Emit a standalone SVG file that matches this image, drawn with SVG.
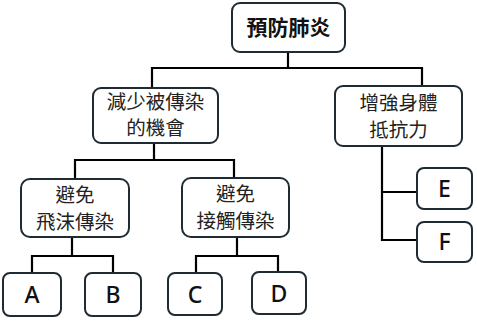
<svg xmlns="http://www.w3.org/2000/svg" width="477" height="321" viewBox="0 0 477 321">
<style>
.box{fill:#fff;stroke:#1e2b33;stroke-width:2}
.ln{fill:none;stroke:#000;stroke-width:2.2}
.t{font-family:"Noto Sans CJK TC","Noto Sans",sans-serif;font-size:19.5px;fill:#222;text-anchor:middle}
.b{font-weight:bold;font-size:21px;fill:#111}
.l{font-family:"Noto Sans","Open Sans",sans-serif;font-size:23px;font-weight:500;fill:#111;text-anchor:middle}
</style>
<rect width="477" height="321" fill="#fff"/>
<g id="connectors">
<path class="ln" d="M288 52V68M152 88V68H422V86"/>
<path class="ln" d="M154 143V160M75 179V160H234V178"/>
<path class="ln" d="M382 146V240H417M382 192H417"/>
<path class="ln" d="M72 237V256M32 273V256H113V273"/>
<path class="ln" d="M237 237V256M196 273V256H278V272"/>
</g>
<g id="root"><rect class="box" x="232" y="3" width="113" height="49" rx="8"/><text class="t b" x="288.5" y="35">預防肺炎</text></g>
<g id="n1"><rect class="box" x="93" y="88" width="125" height="55" rx="8"/><text class="t" x="155.5" y="109">減少被傳染</text><text class="t" x="155.5" y="135">的機會</text></g>
<g id="n2"><rect class="box" x="335" y="86" width="127" height="60" rx="8"/><text class="t" x="398.5" y="110">增強身體</text><text class="t" x="398.5" y="137">抵抗力</text></g>
<g id="n3"><rect class="box" x="21" y="179" width="108" height="58" rx="9"/><text class="t" x="75" y="202">避免</text><text class="t" x="75" y="229">飛沫傳染</text></g>
<g id="n4"><rect class="box" x="182" y="178" width="107" height="59" rx="9"/><text class="t" x="235.5" y="201">避免</text><text class="t" x="235.5" y="228">接觸傳染</text></g>
<g id="nA"><rect class="box" x="3" y="273" width="58" height="43" rx="7"/><text class="l" x="32" y="303">A</text></g>
<g id="nB"><rect class="box" x="85" y="273" width="56" height="43" rx="7"/><text class="l" x="113" y="303">B</text></g>
<g id="nC"><rect class="box" x="168" y="273" width="54" height="42" rx="7"/><text class="l" x="195" y="303">C</text></g>
<g id="nD"><rect class="box" x="252" y="272" width="54" height="42" rx="7"/><text class="l" x="279" y="302">D</text></g>
<g id="nE"><rect class="box" x="417" y="168" width="55" height="41" rx="7"/><text class="l" x="444.5" y="197">E</text></g>
<g id="nF"><rect class="box" x="417" y="222" width="55" height="40" rx="7"/><text class="l" x="444.5" y="250">F</text></g>
</svg>
